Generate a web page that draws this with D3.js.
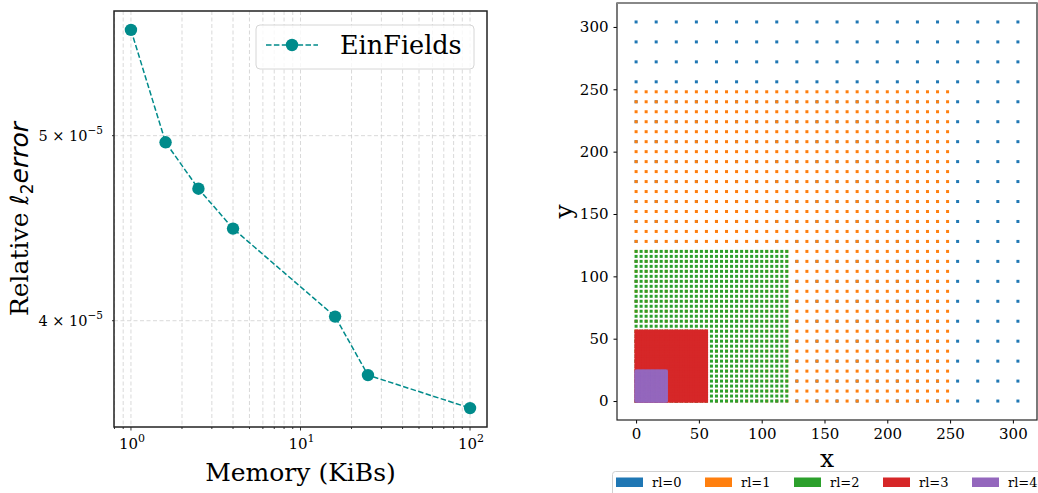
<!DOCTYPE html>
<html>
<head>
<meta charset="utf-8">
<script src="https://cdn.jsdelivr.net/npm/d3@7"></script>
<style>
  body { margin: 0; background: #fff; }
  svg { font-family: "DejaVu Serif", serif; }
</style>
</head>
<body>
<script>
// data for the left panel (memory vs relative error)
var memory = [1, 1.6, 2.5, 4, 16, 25, 100];
var relError = [5.68e-5, 4.96e-5, 4.69e-5, 4.47e-5, 4.02e-5, 3.746e-5, 3.60e-5];
var seriesName = "EinFields";

// data for the right panel (refinement levels of the grid)
var levelNames = ["rl=0", "rl=1", "rl=2", "rl=3", "rl=4"];
var levelSpacing = [16, 8, 4, 2, 1];
var levelMax = [304, 248, 120, 56, 24];
var levelColors = ["#1f77b4", "#ff7f0e", "#2ca02c", "#d62728", "#9467bd"];
var gridTicks = [0, 50, 100, 150, 200, 250, 300];

var W = 1038, H = 493;
var svg = d3.select("body").append("svg")
    .attr("width", W)
    .attr("height", H);

// ---------- left panel ----------
var L = { left: 114, right: 487, top: 11, bottom: 427 };

// matplotlib style 5% margins in log space
function logPad(ext) {
    var a = Math.log10(ext[0]), b = Math.log10(ext[1]), p = (b - a) * 0.05;
    return [Math.pow(10, a - p), Math.pow(10, b + p)];
}

var xL = d3.scaleLog().domain(logPad(d3.extent(memory))).range([L.left, L.right]);
var yL = d3.scaleLog().domain(logPad(d3.extent(relError))).range([L.bottom, L.top]);

var gL = svg.append("g");

// vertical grid at major + minor decades
var xMinor = [];
[0.1, 1, 10].forEach(function (dec) {
    d3.range(1, 10).forEach(function (k) { xMinor.push(k * dec); });
});
xMinor.push(100);
xMinor = xMinor.filter(function (v) { return v >= xL.domain()[0] && v <= xL.domain()[1]; });
var xMajor = [1, 10, 100];
var yGrid = [4e-5, 5e-5];

gL.selectAll(".vgrid").data(xMinor).enter().append("line")
    .attr("x1", function (d) { return xL(d); })
    .attr("x2", function (d) { return xL(d); })
    .attr("y1", L.top).attr("y2", L.bottom)
    .attr("stroke", "#cfcfcf").attr("stroke-width", 0.8)
    .attr("stroke-dasharray", "4,2.5");

gL.selectAll(".hgrid").data(yGrid).enter().append("line")
    .attr("x1", L.left).attr("x2", L.right)
    .attr("y1", function (d) { return yL(d); })
    .attr("y2", function (d) { return yL(d); })
    .attr("stroke", "#cfcfcf").attr("stroke-width", 0.8)
    .attr("stroke-dasharray", "4,2.5");

// ticks
gL.selectAll(".xtick").data(xMinor).enter().append("line")
    .attr("x1", function (d) { return xL(d); })
    .attr("x2", function (d) { return xL(d); })
    .attr("y1", L.bottom)
    .attr("y2", function (d) { return L.bottom + (xMajor.indexOf(d) >= 0 ? 3.5 : 2); })
    .attr("stroke", "#000").attr("stroke-width", 0.8);

gL.selectAll(".ytick").data(yGrid).enter().append("line")
    .attr("x1", L.left - 2).attr("x2", L.left)
    .attr("y1", function (d) { return yL(d); })
    .attr("y2", function (d) { return yL(d); })
    .attr("stroke", "#000").attr("stroke-width", 0.8);

// x tick labels 10^k
xMajor.forEach(function (v, i) {
    var t = gL.append("text")
        .attr("x", xL(v) + 1).attr("y", L.bottom + 22)
        .attr("text-anchor", "middle")
        .style("font-size", "15px");
    t.append("tspan").text("10");
    t.append("tspan").attr("dy", -7).style("font-size", "11px").text(String(i));
});

// y tick labels  k × 10^-5
yGrid.forEach(function (v) {
    var t = gL.append("text")
        .attr("x", L.left - 11).attr("y", yL(v) + 5)
        .attr("text-anchor", "end")
        .style("font-size", "14.5px");
    t.append("tspan").text(Math.round(v * 1e5) + " \u00d7 " + "10");
    t.append("tspan").attr("dy", -7).style("font-size", "10.5px").text("\u22125");
});

// the series
var line = d3.line()
    .x(function (d, i) { return xL(memory[i]); })
    .y(function (d) { return yL(d); });

gL.append("path")
    .datum(relError)
    .attr("d", line)
    .attr("fill", "none")
    .attr("stroke", "#008b8b")
    .attr("stroke-width", 1.5)
    .attr("stroke-dasharray", "5.5,2.4");

gL.selectAll(".pt").data(relError).enter().append("circle")
    .attr("cx", function (d, i) { return xL(memory[i]); })
    .attr("cy", function (d) { return yL(d); })
    .attr("r", 6.2)
    .attr("fill", "#008b8b");

// frame
gL.append("rect")
    .attr("x", L.left).attr("y", L.top)
    .attr("width", L.right - L.left).attr("height", L.bottom - L.top)
    .attr("fill", "none").attr("stroke", "#222").attr("stroke-width", 1.5);

// legend
var lg = gL.append("g");
lg.append("rect")
    .attr("x", 256).attr("y", 25).attr("width", 218).attr("height", 44)
    .attr("rx", 4)
    .attr("fill", "#fff").attr("fill-opacity", 0.8)
    .attr("stroke", "#d6d6d6").attr("stroke-width", 1);
lg.append("line")
    .attr("x1", 266).attr("x2", 318).attr("y1", 45).attr("y2", 45)
    .attr("stroke", "#008b8b").attr("stroke-width", 1.5)
    .attr("stroke-dasharray", "5.5,2.4");
lg.append("circle").attr("cx", 292).attr("cy", 45).attr("r", 6.2).attr("fill", "#008b8b");
lg.append("text").attr("x", 340).attr("y", 54)
    .style("font-size", "25.5px").text(seriesName);

// axis labels
gL.append("text")
    .attr("x", (L.left + L.right) / 2).attr("y", 481)
    .attr("text-anchor", "middle")
    .style("font-size", "25px")
    .text("Memory (KiBs)");

var yl = gL.append("text")
    .attr("transform", "translate(28," + ((L.top + L.bottom) / 2) + ") rotate(-90)")
    .attr("text-anchor", "middle")
    .style("font-size", "25px");
yl.append("tspan").text("Relative ");
yl.append("tspan").style("font-family", "DejaVu Sans").style("font-style", "italic").text("\u2113");
yl.append("tspan").attr("dy", 5).style("font-family", "DejaVu Sans").style("font-size", "17px").text("2");
yl.append("tspan").attr("dy", -5).style("font-family", "DejaVu Sans").style("font-style", "italic").text("error");

// ---------- right panel ----------
var R = { left: 617, right: 1037, top: 3, bottom: 420 };
var pad = 304 * 0.05;
var xR = d3.scaleLinear().domain([-pad, 304 + pad]).range([R.left, R.right]);
var yR = d3.scaleLinear().domain([-pad, 304 + pad]).range([R.bottom, R.top]);

var gR = svg.append("g");

// one grid per level, finer levels drawn on top
levelNames.forEach(function (name, li) {
    var steps = d3.range(0, levelMax[li] + 0.001, levelSpacing[li]);
    var pts = [];
    steps.forEach(function (xv) { steps.forEach(function (yv) { pts.push([xv, yv]); }); });
    // dense levels get markers just wide enough to close the gaps
    var gap = xR(levelSpacing[li]) - xR(0);
    var s = gap < 3 ? Math.max(3, gap + 0.8) : 3;
    gR.append("g").selectAll("rect").data(pts).enter().append("rect")
        .attr("x", function (d) { return xR(d[0]) - s / 2; })
        .attr("y", function (d) { return yR(d[1]) - s / 2; })
        .attr("width", s).attr("height", s)
        .attr("fill", levelColors[li]);
});

// axes
gR.append("g")
    .attr("transform", "translate(0," + R.bottom + ")")
    .call(d3.axisBottom(xR).tickValues(gridTicks).tickSize(3.5).tickPadding(5))
    .call(function (g) { g.select(".domain").remove(); })
    .selectAll("text").style("font-size", "15px").style("font-family", "DejaVu Serif");

gR.append("g")
    .attr("transform", "translate(" + R.left + ",0)")
    .call(d3.axisLeft(yR).tickValues(gridTicks).tickSize(3.5).tickPadding(5))
    .call(function (g) { g.select(".domain").remove(); })
    .selectAll("text").style("font-size", "15px").style("font-family", "DejaVu Serif");

gR.append("rect")
    .attr("x", R.left).attr("y", R.top)
    .attr("width", R.right - R.left).attr("height", R.bottom - R.top)
    .attr("fill", "none").attr("stroke", "#222").attr("stroke-width", 1.2);
gR.append("line")
    .attr("x1", R.left).attr("x2", R.right).attr("y1", R.top).attr("y2", R.top)
    .attr("stroke", "#888").attr("stroke-width", 2);

gR.append("text")
    .attr("x", (R.left + R.right) / 2).attr("y", 467)
    .attr("text-anchor", "middle")
    .style("font-size", "25px")
    .text("x");

gR.append("text")
    .attr("transform", "translate(572," + ((R.top + R.bottom) / 2) + ") rotate(-90)")
    .attr("text-anchor", "middle")
    .style("font-size", "25px")
    .text("y");

// legend along the bottom
var lb = gR.append("g");
lb.append("rect")
    .attr("x", 612.5).attr("y", 471.5).attr("width", 440).attr("height", 30)
    .attr("rx", 3)
    .attr("fill", "#fff").attr("stroke", "#d0d0d0").attr("stroke-width", 1);
levelNames.forEach(function (name, i) {
    var x0 = 616 + i * 89;
    lb.append("rect")
        .attr("x", x0).attr("y", 477.5).attr("width", 27).attr("height", 9.5)
        .attr("fill", levelColors[i]);
    lb.append("text")
        .attr("x", x0 + 36).attr("y", 486.5)
        .style("font-size", "13px")
        .text(name);
});
</script>
</body>
</html>
